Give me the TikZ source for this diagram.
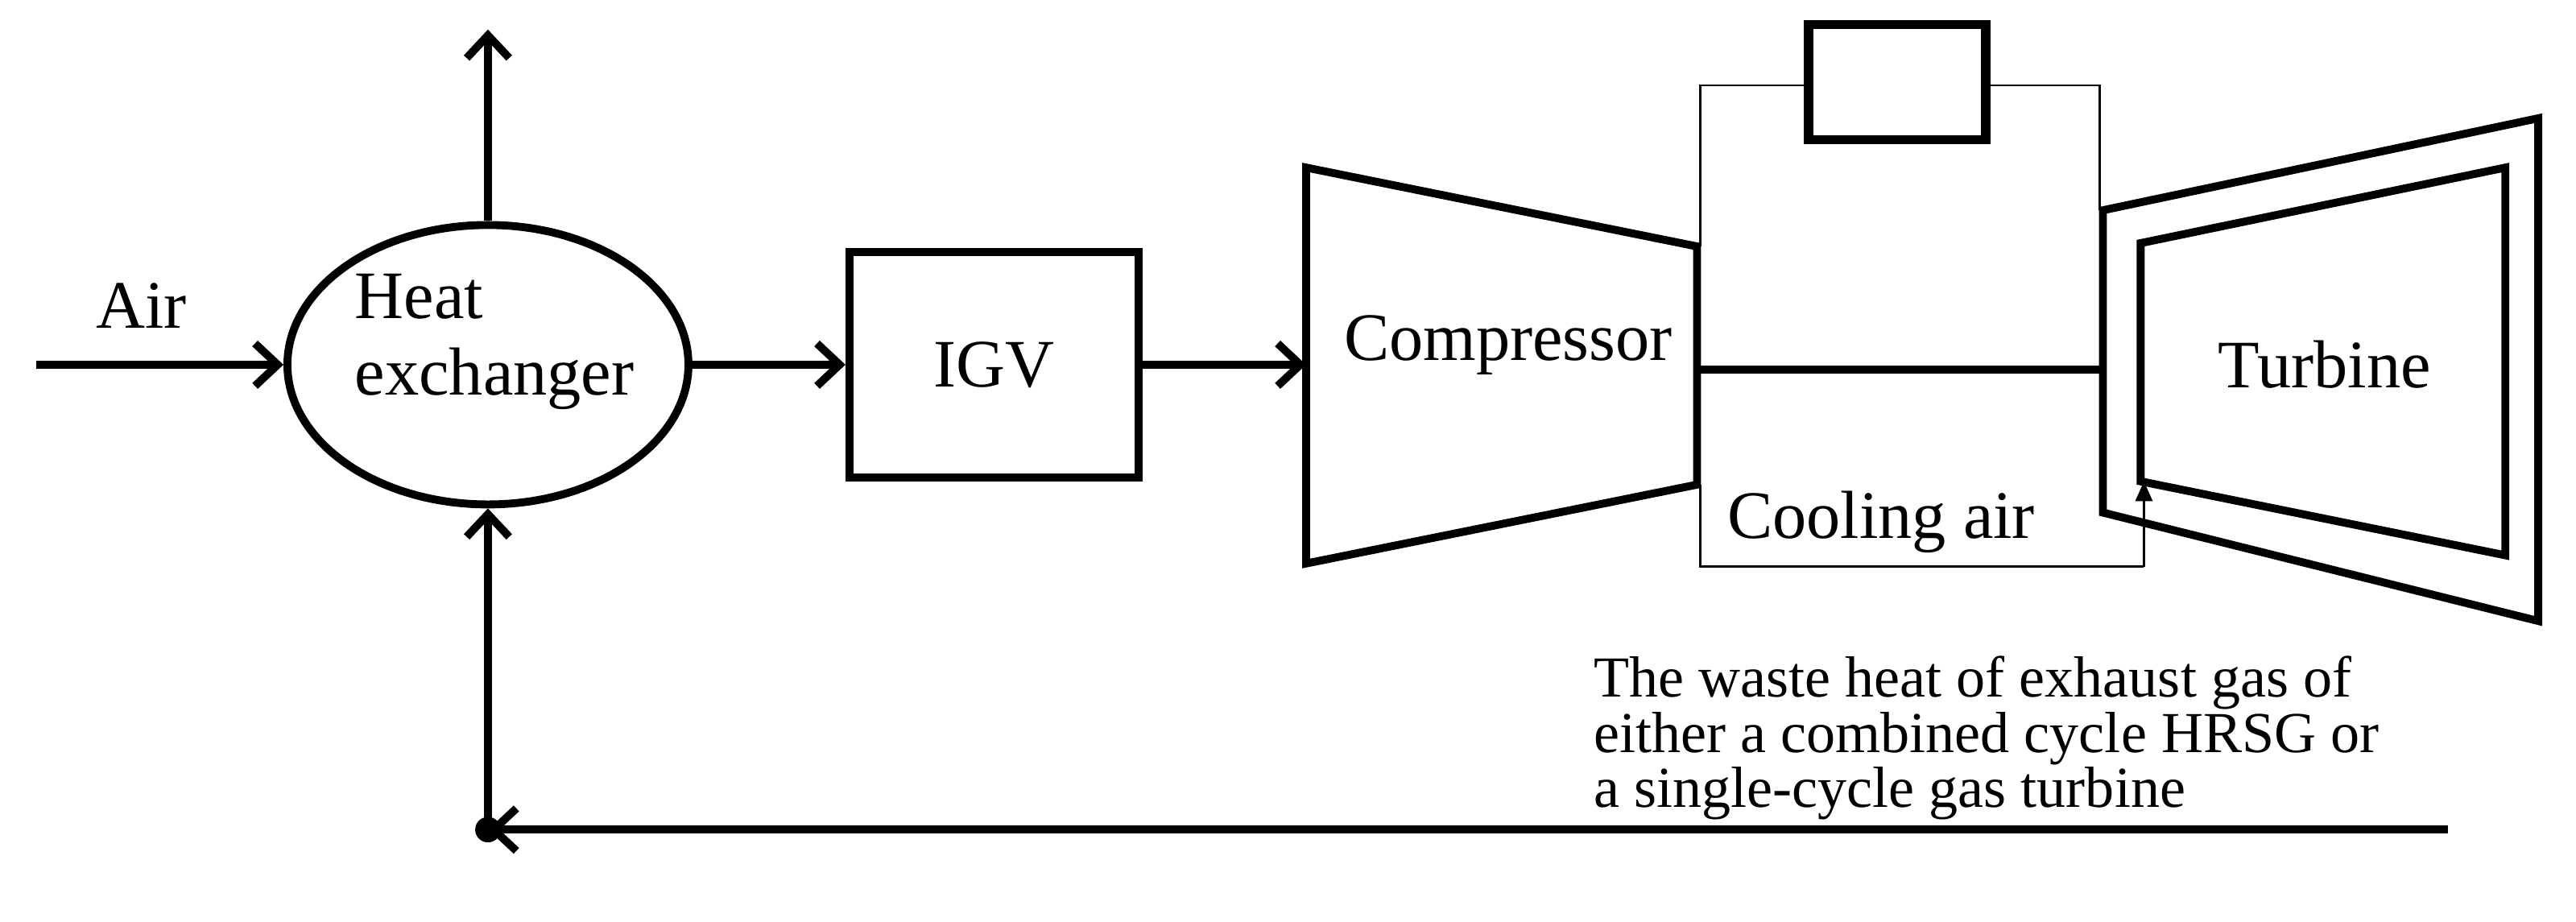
\documentclass[tikz,border=0pt]{standalone}
\usepackage{fontspec}
\setmainfont{Liberation Serif}
\usetikzlibrary{arrows.meta,shapes.geometric}
\begin{document}
\begin{tikzpicture}[x=0.0204cm,y=-0.0204cm,
  thk/.style={line width=2.8pt},
  thn/.style={line width=0.8pt},
  arr/.style={thk,-{Straight Barb[length=8pt,width=15pt,line width=2.8pt]}},
  lbl/.style={font=\fontsize{24}{27}\selectfont}]
\useasboundingbox (0,0) rectangle (1568,561);
% heat exchanger
\node[thk,draw,ellipse,minimum width=4.98cm,minimum height=3.47cm,inner sep=0] (hx) at (297,222) {};
\node[lbl,align=left,anchor=west] (hxt1) at (210,208) {Heat\\exchanger};
\coordinate (airS) at (22,222);
\draw[arr] (airS) -- (hx.west);
\node[lbl] (air) at (86,186) {Air};
\coordinate (up) at (297,18);
\draw[arr] (hx.north) -- (up);
% IGV
\node[thk,draw,minimum width=3.59cm,minimum height=2.8cm,lbl] (igv) at (605,222) {IGV};
\draw[arr] (hx.east) -- (igv.west);
\coordinate (cin) at (795,222);
\draw[arr] (igv.east) -- (cin);
% compressor
\draw[thk,line join=miter] (795,102) -- (1033,150) -- (1033,295) -- (795,343) -- cycle;
\node[lbl] (comp) at (918,210) {Compressor};
% shaft
\coordinate (sh1) at (1033,225); \coordinate (sh2) at (1280,225);
\draw[thk] (sh1) -- (sh2);
% top thin loop and box
\node[draw,line width=3.4pt,minimum width=2.2cm,minimum height=1.43cm] (box) at (1155,50) {};
\draw[thn] (1035,150) -- (1035,52) -- (box.west |- 0,52);
\draw[thn] (box.east |- 0,52) -- (1278,52) -- (1278,128);
% cooling air
\draw[thn] (1035,295) -- (1035,345) -- (1305,345);
\draw[thn,-{Triangle[length=7pt,width=6pt]}] (1305,345) -- (1305,293);
\node[lbl] (cool) at (1145,318) {Cooling air};
% turbine
\draw[thk,line join=miter] (1280,128) -- (1545,72) -- (1545,378) -- (1280,312) -- cycle;
\draw[thk,line join=miter] (1303,148) -- (1525,102) -- (1525,338) -- (1303,293) -- cycle;
\node[lbl] (turb) at (1415,222) {Turbine};
% waste heat text
\node[anchor=north west,align=left,font=\fontsize{20.5}{19.5}\selectfont,inner sep=0] (waste) at (970,399)
 {The waste heat of exhaust gas of\\either a combined cycle HRSG or\\a single-cycle gas turbine};
% return line
\coordinate (rs) at (1490,505); \coordinate (dot) at (297,505);
\draw[arr] (rs) -- (dot);
\fill (dot) circle (4.5pt);
\draw[arr] (dot) -- (hx.south);
\end{tikzpicture}
\end{document}
